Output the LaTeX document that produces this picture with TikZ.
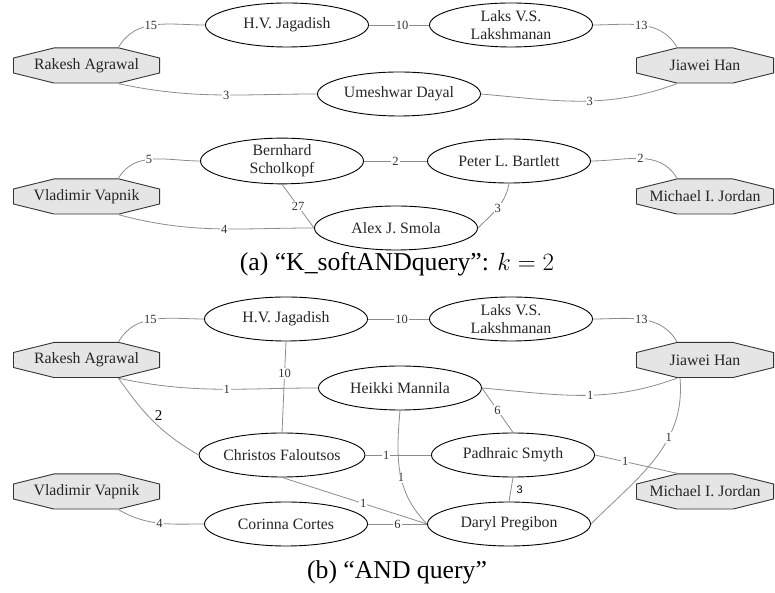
\documentclass[tikz,border=0pt]{standalone}
\usepackage{fontspec}
\setmainfont{Liberation Serif}
\newfontfamily\labelsans{Liberation Sans}
\usepackage{tikz}
\usetikzlibrary{positioning, shapes.geometric}
\definecolor{edgegray}{gray}{0.55}
\definecolor{octgray}{gray}{0.9}
\tikzset{node distance=224pt, % Centre to centre distance inside a row.
person/.style={ % Authors met on the way
ellipse, draw, line width=0.9pt,
minimum width=163pt, minimum height=44pt, inner sep=0pt,
align=center, text=black!85,
font=\fontsize{15.8}{18}\selectfont},
query/.style={ % Query authors, drawn as octagons
rectangle, minimum width=147pt, minimum height=36pt, inner sep=0pt,
text=black!85, font=\fontsize{15.8}{18}\selectfont,
path picture={\draw[draw=black!80, fill=octgray, line width=0.9pt]
([shift={(41pt,-.45pt)}]path picture bounding box.north west) --
([shift={(-41pt,-.45pt)}]path picture bounding box.north east) --
([shift={(-.45pt,7.5pt)}]path picture bounding box.east) --
([shift={(-.45pt,-7.5pt)}]path picture bounding box.east) --
([shift={(-41pt,.45pt)}]path picture bounding box.south east) --
([shift={(41pt,.45pt)}]path picture bounding box.south west) --
([shift={(.45pt,-7.5pt)}]path picture bounding box.west) --
([shift={(.45pt,7.5pt)}]path picture bounding box.west) -- cycle;}},
narrow/.style={minimum width=138pt}, % cut by the right margin
every edge/.style={ % Links between authors
draw, edgegray, line width=0.8pt},
wt/.style={fill=white, inner sep=1pt, text=black!80,
font=\fontsize{12.5}{13}\selectfont}, % Weight on a link
subcap/.style={font=\fontsize{25.7}{30}\selectfont}}

\begin{document}
\begin{tikzpicture}[x=1pt, y=1pt]
    \clip (0,0) rectangle (775,593);

    % (a) K_softANDquery
    \node[person] (1) at (287,568) {H.V. Jagadish};
    \node[person, right of=1] (2) {Laks V.S.\\Lakshmanan};
    \node[query, left of=1, xshift=23.5pt, yshift=-40.5pt] (0) {Rakesh Agrawal};
    \node[query, narrow, right of=2, xshift=-30pt, yshift=-40.5pt] (3) {Jiawei Han};
    \node[person] (4) at (399,499) {Umeshwar Dayal};
    \node[person] (6) at (282,432) {Bernhard\\Scholkopf};
    \node[person, right of=6, xshift=3pt] (7) {Peter L. Bartlett};
    \node[query, left of=6, xshift=28.5pt, yshift=-35.5pt] (5) {Vladimir Vapnik};
    \node[query, narrow, right of=7, xshift=-28pt, yshift=-35.5pt] (8) {Michael I. Jordan};
    \node[person] (9) at (396,365) {Alex J. Smola};
    \node[subcap] (a) at (397,329) {(a) “K\_softANDquery”: $k=2$};

    \draw ([xshift=32pt]0.north) edge[out=60, in=180] node[wt, pos=.45] {15} (1.west);
    \draw (1) edge node[wt, pos=.55] {10} (2);
    \draw (2.east) edge[out=0, in=120] node[wt] {13} ([xshift=-28pt]3.north);
    \draw ([xshift=32pt]0.south) edge[out=-12, in=180] node[wt, pos=.55] {3} (4.west);
    \draw (4.east) edge[out=-5, in=200] node[wt, pos=.55] {3} ([xshift=-28pt]3.south);
    \draw ([xshift=32pt]5.north) edge[out=60, in=180] node[wt, pos=.45] {5} (6.west);
    \draw (6) edge node[wt] {2} (7);
    \draw (7.east) edge[out=0, in=120] node[wt] {2} ([xshift=-28pt]8.north);
    \draw (6.south) edge node[wt] {27} (9.west);
    \draw ([xshift=32pt]5.south) edge[out=-15, in=180] node[wt, pos=.55] {4} (9.west);
    \draw (7.south) edge[out=-100, in=45] node[wt] {3} (9.east);

    % (b) AND query
    \node[person] (11) at (286,274) {H.V. Jagadish};
    \node[person, right of=11, xshift=1pt] (12) {Laks V.S.\\Lakshmanan};
    \node[query, left of=11, xshift=24.5pt, yshift=-41pt] (10) {Rakesh Agrawal};
    \node[query, narrow, right of=12, xshift=-30pt, yshift=-41pt] (13) {Jiawei Han};
    \node[person] (14) at (400,205) {Heikki Mannila};
    \node[person] (15) at (282,138) {Christos Faloutsos};
    \node[person, right of=15, xshift=7pt] (16) {Padhraic Smyth};
    \node[query, left of=15, xshift=28.5pt, yshift=-36.5pt] (17) {Vladimir Vapnik};
    \node[query, narrow, right of=16, xshift=-32pt, yshift=-36.5pt] (18) {Michael I. Jordan};
    \node[person] (19) at (286,69) {Corinna Cortes};
    \node[person, right of=19, xshift=-1pt] (20) {Daryl Pregibon};
    \node[subcap] (b) at (397,21) {(b) “AND query”};

    \draw ([xshift=32pt]10.north) edge[out=60, in=180] node[wt, pos=.45] {15} (11.west);
    \draw (11) edge node[wt, pos=.55] {10} (12);
    \draw (12.east) edge[out=0, in=120] node[wt] {13} ([xshift=-28pt]13.north);
    \draw (11.south) edge node[wt, pos=.35] {10} (15.north);
    \draw ([xshift=32pt]10.south) edge[out=-12, in=180] node[wt, pos=.55] {1} (14.west);
    \draw ([xshift=32pt]10.south) edge[out=-55, in=150] node[right=3pt, pos=.42, text=black, font=\fontsize{15}{15}\selectfont] {2} (15.west);
    \draw (14.east) edge[out=-5, in=200] node[wt, pos=.55] {1} ([xshift=-28pt]13.south);
    \draw (14.east) edge node[wt] {6} (16.north);
    \draw (14.south) edge[out=-95, in=135] node[wt, pos=.55] {1} (20.west);
    \draw (15.east) edge node[wt, pos=.32] {1} (16.west);
    \draw (15.south) edge node[wt, pos=.56] {1} (20.west);
    \draw (19) edge node[wt] {6} (20);
    \draw ([xshift=32pt]17.south) edge[out=-30, in=180] node[wt] {4} (19.west);
    \draw (16.east) edge node[wt, pos=.37] {1} ([xshift=-28pt]18.north);
    \draw (16.south) edge node[right=2pt, text=black, font=\labelsans\fontsize{11}{11}\selectfont] {3} (20.north);
    \draw ([xshift=-25pt]13.south) edge[out=-85, in=45] node[wt, pos=.35] {1} (20.east);

\end{tikzpicture}
\end{document}
